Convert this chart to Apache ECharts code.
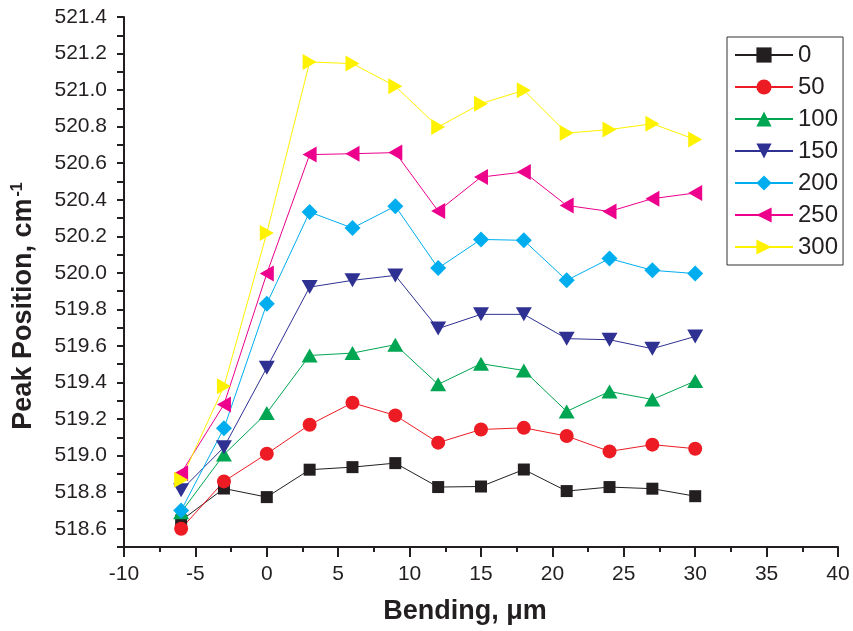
<!DOCTYPE html>
<html><head><meta charset="utf-8">
<script src="https://cdn.jsdelivr.net/npm/echarts@6/dist/echarts.min.js"></script>
<style>html,body{margin:0;padding:0;background:#fff}#c{width:853px;height:631px}</style>
</head><body><div id="c"></div>
<script>
const xValues = [-6, -3, 0, 3, 6, 9, 12, 15, 18, 21, 24, 27, 30];
const seriesNames = ['0', '50', '100', '150', '200', '250', '300'];
const s0   = [518.645, 518.820, 518.773, 518.923, 518.937, 518.959, 518.828, 518.831, 518.924, 518.806, 518.828, 518.819, 518.778];
const s50  = [518.600, 518.859, 519.010, 519.169, 519.289, 519.220, 519.071, 519.143, 519.152, 519.107, 519.023, 519.060, 519.038];
const s100 = [518.690, 519.006, 519.233, 519.548, 519.561, 519.607, 519.390, 519.503, 519.466, 519.242, 519.351, 519.307, 519.408];
const s150 = [518.810, 519.046, 519.481, 519.922, 519.959, 519.986, 519.695, 519.773, 519.773, 519.640, 519.634, 519.585, 519.652];
const s200 = [518.700, 519.150, 519.831, 520.333, 520.245, 520.365, 520.026, 520.183, 520.178, 519.959, 520.078, 520.014, 519.996];
const s250 = [518.904, 519.280, 519.996, 520.647, 520.652, 520.658, 520.338, 520.524, 520.552, 520.369, 520.336, 520.406, 520.437];
const s300 = [518.868, 519.379, 520.218, 521.154, 521.145, 521.021, 520.798, 520.926, 520.999, 520.765, 520.784, 520.816, 520.730];
const yTicks = [518.6, 518.8, 519.0, 519.2, 519.4, 519.6, 519.8, 520.0, 520.2, 520.4, 520.6, 520.8, 521.0, 521.2, 521.4];
const xAxisName = 'Bending, \u03bcm';
const yAxisName = 'Peak Position, cm';
const yAxisNameSup = '-1';

const allValues = [s0, s50, s100, s150, s200, s250, s300];
const colors = ['#231f20', '#ed1c24', '#00a651', '#2e3192', '#00aeef', '#ec008c', '#fff200'];
const symbols = ['rect', 'circle', 'triangle', 'triangle', 'diamond', 'triangle', 'triangle'];
const rotates = [0, 0, 0, 180, 0, 90, -90];
const sizes = [12, 14, [16, 14], [16, 14], 16, [16, 14], [16, 14]];
const FF = '"Liberation Sans", Arial, Helvetica, sans-serif';
const AX = '#231f20';

const chart = echarts.init(document.getElementById('c'), null, {renderer: 'canvas'});
chart.setOption({
  animation: false,
  backgroundColor: '#fff',
  grid: {left: 124, right: 15, top: 17, bottom: 84, containLabel: false},
  legend: {
    orient: 'vertical', left: 727, top: 37,
    padding: [6, 5, 6, 7], itemGap: 8, itemWidth: 58, itemHeight: 19,
    borderColor: '#333', borderWidth: 1,
    textStyle: {fontSize: 24, lineHeight: 24, color: AX, fontFamily: FF},
    data: seriesNames
  },
  xAxis: {
    type: 'value', min: -10, max: 40, interval: 5,
    axisLine: {show: true, onZero: false, lineStyle: {color: AX, width: 2}},
    axisTick: {show: true, inside: false, length: 10, lineStyle: {color: AX, width: 2}},
    minorTick: {show: true, splitNumber: 2, length: 5, lineStyle: {color: AX, width: 2}},
    axisLabel: {fontSize: 21, color: AX, fontFamily: FF, margin: 17},
    splitLine: {show: false}, minorSplitLine: {show: false},
    name: xAxisName, nameLocation: 'middle', nameGap: 51,
    nameTextStyle: {fontSize: 27, fontWeight: 'bold', color: AX, fontFamily: FF, padding: [0, 32, 0, 0]}
  },
  yAxis: {
    type: 'value', min: 518.5, max: 521.4, interval: 0.1, position: 'left',
    axisLine: {show: true, onZero: false, lineStyle: {color: AX, width: 2}},
    axisTick: {show: true, inside: false, length: 7, lineStyle: {color: AX, width: 2}},
    axisLabel: {customValues: yTicks, formatter: v => Number(v).toFixed(1), fontSize: 21, color: AX, fontFamily: FF, margin: 17},
    splitLine: {show: false},
    name: yAxisName + '{sup|' + yAxisNameSup + '}', nameLocation: 'middle', nameGap: 86, nameRotate: 90,
    nameTextStyle: {
      fontSize: 27, fontWeight: 'bold', color: AX, fontFamily: FF, padding: [0, 48, 0, 0],
      rich: {sup: {fontSize: 16, fontWeight: 'bold', color: AX, fontFamily: FF, verticalAlign: 'top', padding: [0, 0, 12, 2]}}
    }
  },
  series: seriesNames.map((n, i) => ({
    name: n, type: 'line',
    data: xValues.map((x, j) => [x, allValues[i][j]]),
    symbol: symbols[i], symbolRotate: rotates[i], symbolSize: sizes[i], showSymbol: true,
    lineStyle: {color: colors[i], width: 1},
    itemStyle: {color: colors[i]},
    emphasis: {disabled: true}
  }))
});
</script>
</body></html>
